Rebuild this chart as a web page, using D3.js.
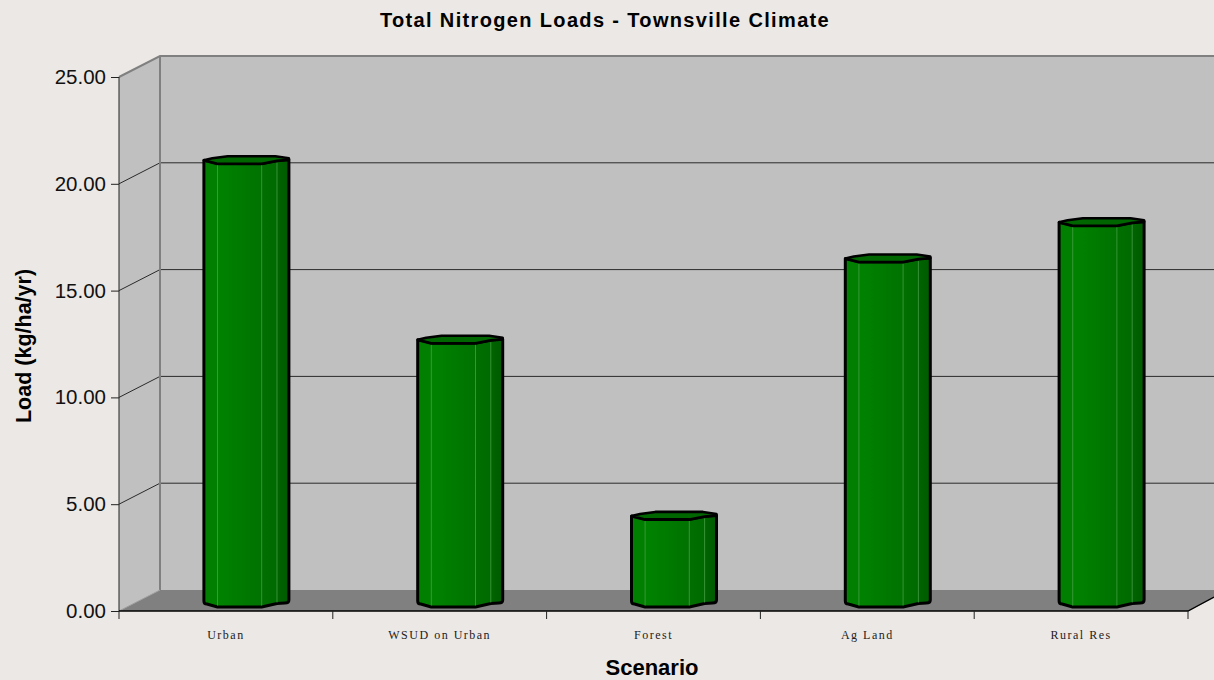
<!DOCTYPE html>
<html lang="en">
<head>
    <meta charset="utf-8">
    <title>Total Nitrogen Loads - Townsville Climate</title>
    <script src="https://d3js.org/d3.v7.min.js"></script>
    <style>
        html, body { margin: 0; padding: 0; background: #ece8e5; overflow: hidden; }
        svg { display: block; font-family: 'Liberation Sans', Arial, sans-serif; }
        .yaxis text { font-size: 20.5px; fill: #111; }
        .xaxis text { font-family: 'Liberation Serif', serif; font-size: 12px; letter-spacing: 1.5px; fill: #222; }
    </style>
</head>
<body>
<svg id="chart" width="1214" height="680"></svg>
<script>
    // values
    var categories = ["Urban", "WSUD on Urban", "Forest", "Ag Land", "Rural Res"];
    var loads = [20.75, 12.35, 4.1, 16.15, 17.85];
    var yTicks = [0, 5, 10, 15, 20, 25];

    var svg = d3.select("#chart");
    var W = 1214,
        plotLeft = 119, plotRight = 1188, plotBottom = 611, plotTop = 77,
        depthX = 41, depthY = 21;

    var x = d3.scaleBand().domain(categories).range([plotLeft, plotRight]);
    var y = d3.scaleLinear().domain([0, 25]).range([plotBottom, plotTop]);

    // face gradient of the bars, hard steps at the facet edges
    var grad = svg.append("defs").append("linearGradient").attr("id", "barFill");
    [[0, "#007f00"], [0.16, "#007f00"], [0.16, "#008300"], [0.68, "#007200"],
     [0.68, "#006f00"], [0.86, "#006a00"], [0.86, "#006400"], [1, "#005a00"]].forEach(function(s) {
        grad.append("stop").attr("offset", s[0]).attr("stop-color", s[1]);
    });

    // back wall, side wall and floor
    svg.append("rect").attr("x", plotLeft + depthX).attr("y", plotTop - depthY)
        .attr("width", W - plotLeft - depthX).attr("height", plotBottom - plotTop)
        .attr("fill", "#c0c0c0");
    svg.append("path")
        .attr("d", d3.line()([[plotLeft, plotTop], [plotLeft + depthX, plotTop - depthY], [plotLeft + depthX, plotBottom - depthY], [plotLeft, plotBottom]]) + "Z")
        .attr("fill", "#c0c0c0");
    svg.append("path")
        .attr("d", d3.line()([[plotLeft, plotBottom], [plotLeft + depthX, plotBottom - depthY], [W, plotBottom - depthY], [W, plotBottom - depthY + 8], [plotRight, plotBottom]]) + "Z")
        .attr("fill", "#808080");

    // gridlines
    yTicks.slice(1, -1).forEach(function(t) {
        svg.append("path")
            .attr("d", d3.line()([[plotLeft, y(t)], [plotLeft + depthX, y(t) - depthY], [W, y(t) - depthY]]))
            .attr("fill", "none").attr("stroke", "#2a2a2a").attr("stroke-width", 1);
    });

    // wall borders
    svg.append("path")
        .attr("d", d3.line()([[plotLeft, plotTop], [plotLeft + depthX, plotTop - depthY], [W, plotTop - depthY]]))
        .attr("fill", "none").attr("stroke", "#808080").attr("stroke-width", 2);
    svg.append("path")
        .attr("d", d3.line()([[plotLeft + depthX, plotTop - depthY], [plotLeft + depthX, plotBottom - depthY]]))
        .attr("fill", "none").attr("stroke", "#808080").attr("stroke-width", 2);
    svg.append("path")
        .attr("d", d3.line()([[plotLeft, plotBottom], [plotLeft + depthX, plotBottom - depthY]]))
        .attr("fill", "none").attr("stroke", "#a0a0a0").attr("stroke-width", 1);

    // bars, the front sits a little behind the axis plane
    var barW = 85, barOffset = 20.5, baseLift = 4;
    var bars = svg.selectAll("g.bar").data(categories).enter().append("g").attr("class", "bar")
        .attr("transform", function(c) {
            return "translate(" + (x(c) + (x.step() - barW) / 2 + barOffset) + ",0)";
        });

    bars.each(function(c, i) {
        var g = d3.select(this),
            f = y(loads[i]) - baseLift,
            b = y(0) - baseLift;

        // body
        g.append("path")
            .attr("d", "M0," + (f - 3.5) + "L" + (0.16 * barW) + "," + f + "L" + (0.68 * barW) + "," + f +
                "L" + (0.86 * barW) + "," + (f - 3) + "L" + barW + "," + (f - 4) + "L" + barW + "," + (b - 7) +
                "Q" + barW + "," + (b - 4) + " " + (barW - 4) + "," + (b - 4) +
                "L" + (0.86 * barW) + "," + (b - 3.5) +
                "L" + (0.68 * barW) + "," + b + "L" + (0.16 * barW) + "," + b +
                "L3," + (b - 3) + "Q0," + (b - 3) + " 0," + (b - 6) + "Z")
            .attr("fill", "url(#barFill)")
            .attr("stroke", "#000").attr("stroke-width", 3).attr("stroke-linejoin", "round");

        // light facet edges
        [0.16, 0.68, 0.86].forEach(function(p) {
            var yTop = p < 0.7 ? f + 1.5 : f - 1;
            var yEnd = p < 0.7 ? b - 1.5 : b - 4.5;
            g.append("line").attr("x1", p * barW).attr("x2", p * barW)
                .attr("y1", yTop).attr("y2", yEnd)
                .attr("stroke", "#4aa04a").attr("stroke-width", 1).attr("stroke-opacity", p < 0.1 ? 1 : 0.75);
        });

        // top cap, a flattened polygon
        g.append("path")
            .attr("d", "M0," + (f - 3.5) + "L" + (0.1 * barW) + "," + (f - 5.5) + "L" + (0.28 * barW) + "," + (f - 7.5) +
                "L" + (0.84 * barW) + "," + (f - 7.5) + "L" + barW + "," + (f - 5.5) + "L" + barW + "," + (f - 4) +
                "L" + (0.86 * barW) + "," + (f - 3) + "L" + (0.68 * barW) + "," + f + "L" + (0.16 * barW) + "," + f + "Z")
            .attr("fill", "#006600")
            .attr("stroke", "#000").attr("stroke-width", 2.6).attr("stroke-linejoin", "round");
    });

    // y axis
    var yAxis = d3.axisLeft(y).tickValues(yTicks).tickFormat(d3.format(".2f")).tickSize(8).tickPadding(5);
    var yG = svg.append("g").attr("class", "yaxis").attr("transform", "translate(" + plotLeft + ",0)").call(yAxis);
    yG.select(".domain").remove();
    yG.selectAll("line").attr("stroke", "#222");
    svg.append("line").attr("x1", plotLeft).attr("x2", plotLeft).attr("y1", plotTop).attr("y2", plotBottom)
        .attr("stroke", "#222").attr("stroke-width", 1);

    // x axis: labels from the band scale, ticks on the band edges
    var xAxis = d3.axisBottom(x).tickSize(0).tickPadding(19);
    var xG = svg.append("g").attr("class", "xaxis").attr("transform", "translate(0," + plotBottom + ")").call(xAxis);
    xG.select(".domain").remove();

    svg.append("path")
        .attr("d", d3.line()([[plotLeft, plotBottom], [plotRight, plotBottom], [W, plotBottom - 14]]))
        .attr("fill", "none").attr("stroke", "#000").attr("stroke-width", 1.4);
    categories.concat([null]).forEach(function(c) {
        var px = c === null ? plotRight : x(c);
        svg.append("line").attr("x1", px).attr("x2", px).attr("y1", plotBottom).attr("y2", plotBottom + 8)
            .attr("stroke", "#222");
    });

    // titles
    svg.append("text").attr("x", 605).attr("y", 27).attr("text-anchor", "middle")
        .attr("font-size", 20).attr("font-weight", "bold").attr("letter-spacing", 1.35).attr("fill", "#000")
        .text("Total Nitrogen Loads - Townsville Climate");
    svg.append("text").attr("x", 652).attr("y", 675).attr("text-anchor", "middle")
        .attr("font-size", 22).attr("font-weight", "bold").attr("fill", "#000")
        .text("Scenario");
    svg.append("text").attr("transform", "translate(31,346) rotate(-90)").attr("text-anchor", "middle")
        .attr("font-size", 21.5).attr("font-weight", "bold").attr("fill", "#000")
        .text("Load (kg/ha/yr)");
</script>
</body>
</html>
